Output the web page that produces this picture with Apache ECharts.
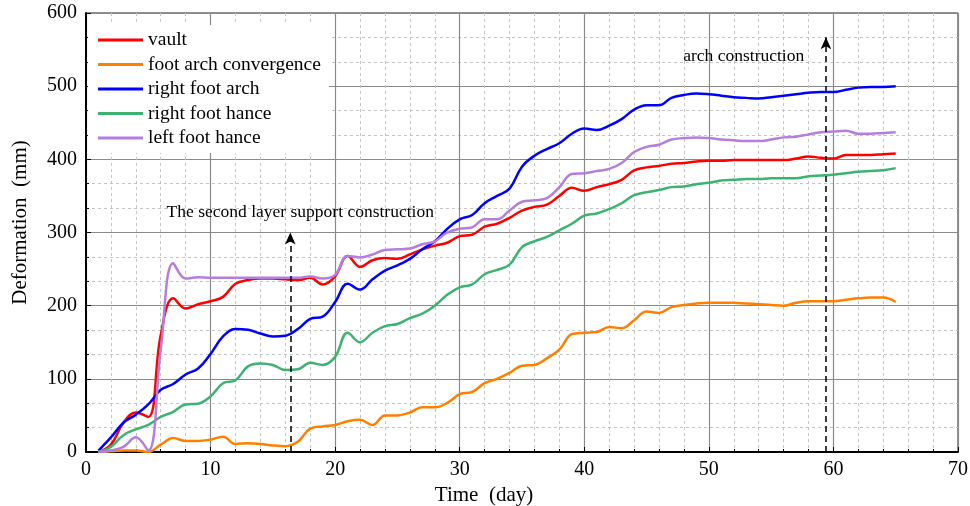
<!DOCTYPE html>
<html>
<head>
<meta charset="utf-8">
<script src="https://cdn.jsdelivr.net/npm/echarts@6/dist/echarts.min.js"></script>
<style>
  html, body { margin: 0; padding: 0; background: #fff; }
  #chart { width: 970px; height: 506px; }
</style>
</head>
<body>
<div id="chart"></div>
<script>
var days = [];
for (var d = 1; d <= 65; d++) days.push(d);

var vault = [0, 10, 40, 54, 48, 160, 210, 196, 202, 206, 212, 230, 235, 237, 237, 236, 235, 238, 229, 240,
    268, 253, 262, 265, 264, 270, 277, 282, 286, 295, 297, 308, 312, 320, 330, 335, 338, 350, 361, 357,
    362, 366, 372, 385, 389, 391, 394, 395, 397, 398, 398, 399, 399, 399, 399, 399, 401, 404, 402, 401,
    406, 406, 406, 407, 408];
var footArch = [0, 1, 2, 2, 0, 10, 19, 15, 15, 17, 21, 11, 12, 11, 9, 8, 14, 32, 35, 37,
    42, 44, 37, 50, 50, 54, 61, 61, 67, 79, 82, 94, 100, 108, 118, 119, 128, 140, 161, 163,
    164, 171, 169, 180, 192, 190, 198, 201, 203, 204, 204, 204, 203, 202, 201, 200, 204, 206, 206, 206,
    208, 210, 211, 211, 205];
var rightArch = [2, 20, 40, 51, 65, 85, 93, 106, 114, 134, 158, 168, 167, 162, 158, 159, 168, 182, 185, 205,
    230, 222, 236, 248, 255, 264, 277, 288, 305, 318, 324, 340, 350, 360, 390, 405, 414, 422, 435, 442,
    440, 446, 455, 468, 474, 474, 484, 488, 490, 489, 487, 485, 484, 483, 485, 487, 489, 491, 492, 492,
    495, 498, 499, 499, 500];
var rightHance = [0, 7, 23, 31, 37, 48, 55, 65, 66, 76, 94, 98, 117, 121, 119, 112, 113, 122, 119, 130,
    163, 150, 163, 172, 175, 183, 189, 200, 215, 225, 229, 243, 249, 256, 280, 288, 294, 303, 312, 323,
    326, 332, 340, 351, 355, 358, 362, 363, 366, 368, 371, 372, 373, 373, 374, 374, 374, 377, 378, 379,
    381, 383, 384, 385, 388];
var leftHance = [0, 2, 7, 20, 2, 140, 258, 237, 239, 238, 238, 238, 238, 238, 238, 238, 238, 240, 237, 242,
    268, 266, 270, 276, 277, 278, 284, 288, 300, 305, 307, 318, 318, 330, 342, 344, 347, 362, 380, 381,
    384, 387, 395, 410, 417, 420, 427, 429, 430, 429, 427, 426, 425, 425, 427, 430, 431, 434, 437, 438,
    439, 435, 435, 436, 437];

var names = ['vault', 'foot arch convergence', 'right foot arch', 'right foot hance', 'left foot hance'];
var colors = ['#ff0000', '#ff8000', '#0000ff', '#3cb371', '#b57edc'];
var values = [vault, footArch, rightArch, rightHance, leftHance];

// construction events: [day, arrow top, caption, caption x, caption y]
var events = [
    [16.4, 300, 'The second layer support construction', 17.2, 327],
    [59.4, 567, 'arch construction', 52.8, 540]
];

var font = 'Liberation Serif';

function pairs(vals) {
    return days.map(function (d, i) { return [d, vals[i]]; });
}

var series = values.map(function (vals, i) {
    return {
        name: names[i],
        type: 'line',
        smooth: 0.4,
        showSymbol: false,
        symbol: 'none',
        data: pairs(vals),
        lineStyle: { color: colors[i], width: 2.5 },
        itemStyle: { color: colors[i] },
        z: 3
    };
});

series[0].markLine = {
    silent: true,
    symbol: ['none', 'arrow'],
    symbolSize: [8, 12],
    label: { show: false },
    lineStyle: { type: [6, 4], color: '#000', width: 1.5 },
    data: events.map(function (e) {
        return [{ coord: [e[0], 0] }, { coord: [e[0], e[1]] }];
    })
};

var myChart = echarts.init(document.getElementById('chart'));
var option = {
    animation: false,
    backgroundColor: '#fff',
    grid: {
        left: 86, right: 12, top: 13, bottom: 54,
        outerBoundsMode: 'none',
        containLabel: false,
        show: true, borderColor: '#222', borderWidth: 1
    },
    legend: {
        orient: 'vertical',
        left: 88, top: 25,
        padding: [5, 8, 5, 10],
        backgroundColor: '#fff',
        itemWidth: 45, itemHeight: 3, itemGap: 4.5,
        icon: 'rect',
        textStyle: { fontFamily: font, fontSize: 19.5, color: '#000' },
        data: names
    },
    xAxis: {
        type: 'value',
        min: 0, max: 70, interval: 10,
        name: 'Time  (day)',
        nameLocation: 'middle',
        nameGap: 33,
        nameTextStyle: { fontFamily: font, fontSize: 21, color: '#000', padding: [0, 76, 0, 0] },
        axisLine: { lineStyle: { color: '#000', width: 2 } },
        axisTick: { inside: true, length: 5, lineStyle: { color: '#000' } },
        minorTick: { show: true, splitNumber: 5, length: 3, lineStyle: { color: '#000' } },
        axisLabel: { fontFamily: font, fontSize: 20, color: '#000', margin: 8 },
        splitLine: { show: true, lineStyle: { color: '#8a8a8a', width: 1.2 } },
        minorSplitLine: { show: true, lineStyle: { color: '#c4c4c4', type: [3, 3], width: 1 } }
    },
    yAxis: {
        type: 'value',
        min: 0, max: 600, interval: 100,
        name: 'Deformation  (mm)',
        nameLocation: 'middle',
        nameGap: 55,
        nameTextStyle: { fontFamily: font, fontSize: 21, color: '#000', padding: [0, 0, 0, 20] },
        axisLine: { show: true, lineStyle: { color: '#000', width: 2 } },
        axisTick: { show: true, inside: true, length: 5, lineStyle: { color: '#000' } },
        minorTick: { show: true, splitNumber: 3, length: 3, lineStyle: { color: '#000' } },
        axisLabel: { fontFamily: font, fontSize: 20, color: '#000', margin: 9 },
        splitLine: { show: true, lineStyle: { color: '#8a8a8a', width: 1.2 } },
        minorSplitLine: { show: true, lineStyle: { color: '#c4c4c4', type: [3, 3], width: 1 } }
    },
    series: series
};
myChart.setOption(option);

// event captions placed in data coordinates
var texts = events.map(function (e) {
    var p = myChart.convertToPixel({ gridIndex: 0 }, [e[3], e[4]]);
    return {
        type: 'text',
        x: p[0], y: p[1],
        style: {
            text: e[2], fill: '#000',
            font: '17.5px "' + font + '"',
            align: 'center', verticalAlign: 'middle'
        },
        z: 10
    };
});
myChart.setOption({ graphic: texts });
</script>
</body>
</html>
